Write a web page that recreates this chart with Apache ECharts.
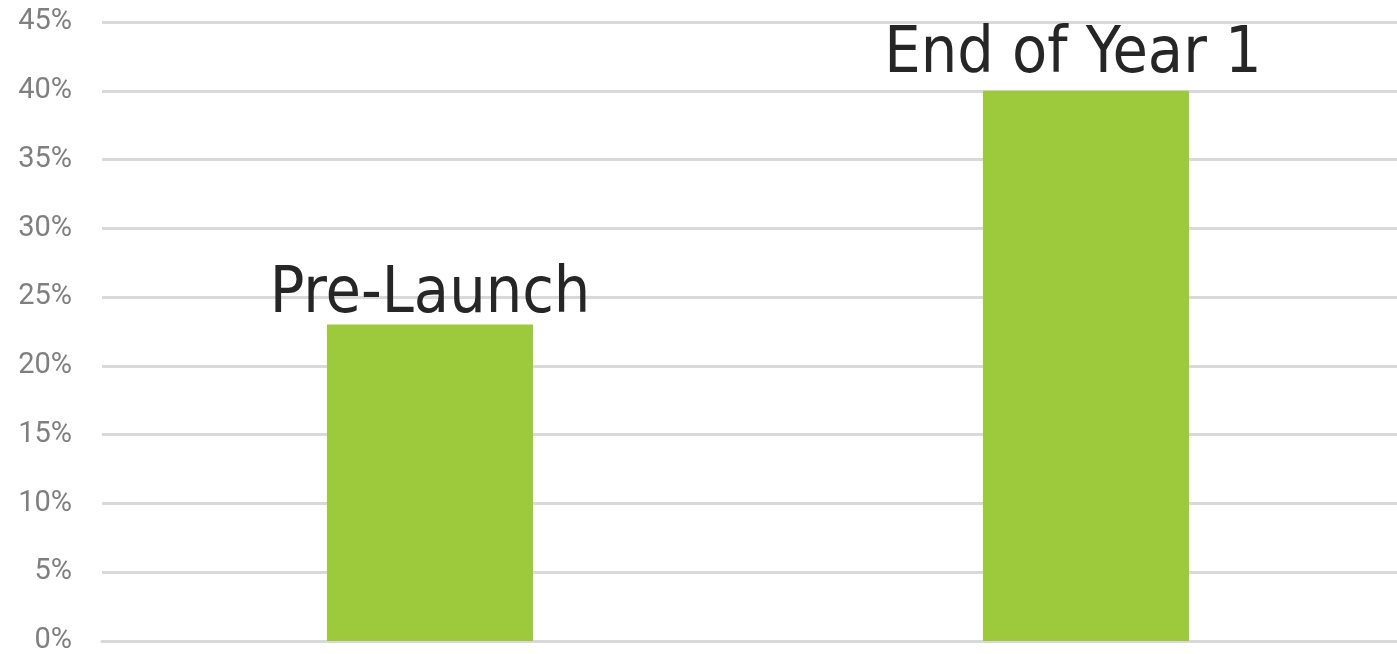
<!DOCTYPE html>
<html>
<head>
<meta charset="utf-8">
<script src="https://cdn.jsdelivr.net/npm/echarts@6/dist/echarts.min.js"></script>
<style>
  html, body { margin: 0; padding: 0; background: #fff; }
  #chart { width: 1397px; height: 654px; }
</style>
</head>
<body>
<div id="chart"></div>
<script>
// 分类与数值（百分比）
const categories = ['Pre-Launch', 'End of Year 1']
const values = [23, 40]
const yTicks = [0, 5, 10, 15, 20, 25, 30, 35, 40, 45]
// 标签微调（原图标签并未完全居中）
const labelOffsets = [[0, 1], [-13, -5]]

const chart = echarts.init(document.getElementById('chart'))
chart.setOption({
  animation: false,
  grid: {
    top: 22,
    left: 102,
    width: 1312,
    height: 619,
    outerBoundsMode: 'none'
  },
  xAxis: {
    type: 'category',
    data: categories,
    axisTick: { show: false },
    axisLabel: { show: false },
    axisLine: {
      show: true,
      lineStyle: { color: '#d9d9d9', width: 3 }
    }
  },
  yAxis: {
    type: 'value',
    min: yTicks[0],
    max: yTicks[yTicks.length - 1],
    interval: 5,
    axisTick: { show: false },
    axisLine: { show: false },
    splitLine: {
      lineStyle: { color: '#d9d9d9', width: 3 }
    },
    axisLabel: {
      margin: 30,
      formatter: '{value}%',
      fontFamily: 'Roboto',
      fontSize: 29,
      color: '#7f7f7f'
    }
  },
  series: [{
    type: 'bar',
    barWidth: 206,
    data: values.map((v, i) => ({
      value: v,
      label: { offset: labelOffsets[i] }
    })),
    itemStyle: { color: '#9dc93c' },
    label: {
      show: true,
      position: 'top',
      distance: -2,
      formatter: '{b}',
      fontFamily: 'DejaVu Sans Condensed',
      fontSize: 64,
      color: '#262626'
    }
  }]
})
</script>
</body>
</html>
